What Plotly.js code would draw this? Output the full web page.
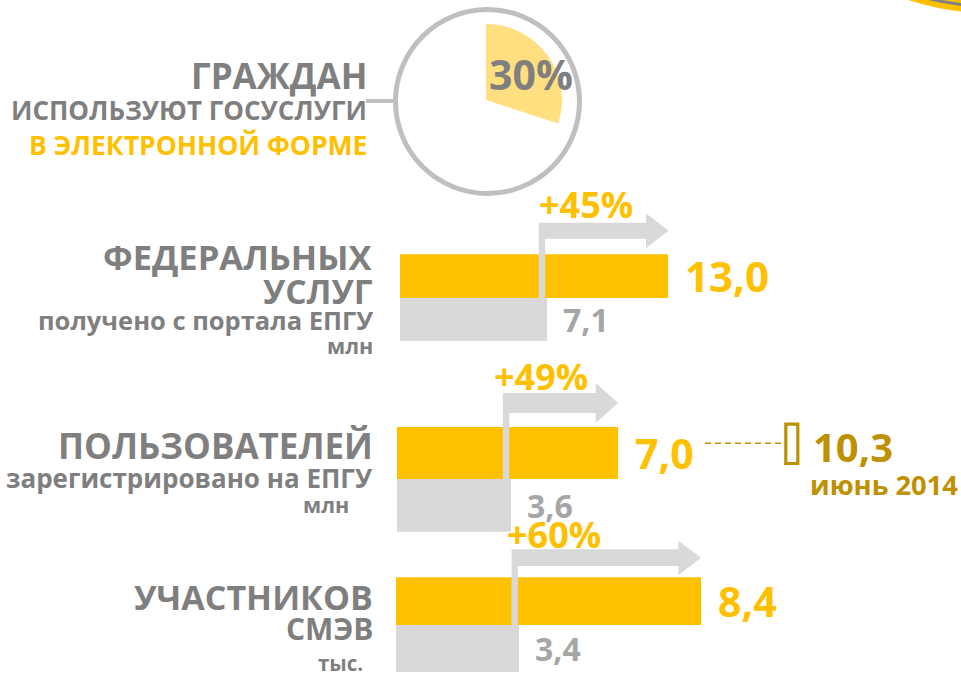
<!DOCTYPE html>
<html><head><meta charset="utf-8">
<script src="https://cdn.plot.ly/plotly-3.0.1.min.js"></script>
<style>html,body{margin:0;padding:0;background:#fff;overflow:hidden}</style>
</head><body><div id="chart" style="width:961px;height:682px"></div>
<script>
// ---------- DATA ----------
const categories = ['прежде', 'сейчас'];
const prevValues = [7.1, 3.6, 3.4];
const curValues = [13.0, 7.0, 8.4];
const growthLabels = ['+45%', '+49%', '+60%'];
const titleLine1 = ['ФЕДЕРАЛЬНЫХ', 'ПОЛЬЗОВАТЕЛЕЙ', 'УЧАСТНИКОВ'];
const titleLine2 = ['УСЛУГ', '', 'СМЭВ'];
const subtitles = ['получено с портала ЕПГУ', 'зарегистрировано на ЕПГУ', ''];
const units = ['млн', 'млн', 'тыс.'];
const citizenShare = 30;
const citizenLines = ['ГРАЖДАН', 'ИСПОЛЬЗУЮТ ГОСУСЛУГИ', 'В ЭЛЕКТРОННОЙ ФОРМЕ'];
const forecastValue = 10.3;
const forecastLabel = 'июнь 2014';

// ---------- STYLE / GEOMETRY ----------
const W = 961, H = 682;
const fx = x => x / W, fy = y => 1 - y / H;
const YEL = '#ffc000', GRY = '#d9d9d9', TXT = '#7f7f7f', NUM = '#a6a6a6', GOLD = '#bf9000';
const FONT = 'Open Sans, DejaVu Sans, sans-serif';
const geo = [
  {x0: 400, scale: 20.65, top: 254.3, bot: 341, shaftTop: 222.7, shaftBot: 238.7, headTop: 213.3, headBot: 248.3, stemBot: 312.7, pctY: 204.5, pctShift: 0,
   t1: 256, s1: 34.5, t2: 291, s2: 33.5, sub: 320, ss: 25.5, unit: 345, us: 21.5, unitR: 373},
  {x0: 397, scale: 31.6, top: 426.9, bot: 531.7, shaftTop: 393, shaftBot: 413, headTop: 383, headBot: 423, stemBot: 499, pctY: 377, pctShift: -9,
   t1: 445, s1: 35, t2: null, s2: 0, sub: 477.5, ss: 26, unit: 504, us: 21.5, unitR: 349},
  {x0: 396, scale: 36.3, top: 577.3, bot: 672.3, shaftTop: 549.3, shaftBot: 566, headTop: 540.7, headBot: 575.3, stemBot: 630, pctY: 534, pctShift: -5,
   t1: 597, s1: 34, t2: 628, s2: 30, sub: null, ss: 0, unit: 663, us: 20.5, unitR: 363}
];
const fmt = v => v.toFixed(1).replace('.', ',');
const f = (size, color) => ({family: FONT, size: size, color: color, weight: 700});

const traces = [];
const layout = {
  width: W, height: H, margin: {l: 0, r: 0, t: 0, b: 0},
  paper_bgcolor: '#ffffff', plot_bgcolor: 'rgba(0,0,0,0)',
  showlegend: false, bargap: 0, shapes: [], annotations: []
};

// pie (citizens)
traces.push({
  type: 'pie', values: [citizenShare, 100 - citizenShare], sort: false,
  direction: 'clockwise', rotation: 0, textinfo: 'none', hoverinfo: 'skip',
  marker: {colors: ['#ffdf80', 'rgba(0,0,0,0)'], line: {width: 0}},
  domain: {x: [fx(410), fx(562)], y: [fy(176), fy(24)]}
});
layout.shapes.push({type: 'circle', xref: 'paper', yref: 'paper', x0: fx(395.5), x1: fx(579.5), y0: fy(193.5), y1: fy(9.5), line: {color: '#bfbfbf', width: 5}, fillcolor: 'rgba(0,0,0,0)'});
layout.shapes.push({type: 'line', xref: 'paper', yref: 'paper', x0: fx(366), x1: fx(395), y0: fy(101), y1: fy(101), line: {color: '#bfbfbf', width: 4}});
layout.annotations.push({xref: 'paper', yref: 'paper', x: fx(531), y: fy(74), text: citizenShare + '%', showarrow: false, xanchor: 'center', yanchor: 'middle', font: f(41, TXT)});
const citY = [75.5, 110, 144.5], citS = [35, 26, 26.5], citC = [TXT, TXT, YEL];
citizenLines.forEach((t, i) => layout.annotations.push({xref: 'paper', yref: 'paper', x: fx(369), y: fy(citY[i]), text: t, showarrow: false, xanchor: 'right', yanchor: 'middle', font: f(citS[i], citC[i])}));

// top-right decoration
layout.shapes.push({type: 'circle', xref: 'paper', yref: 'paper', x0: fx(990 - 265), x1: fx(990 + 265), y0: fy(-252 + 265), y1: fy(-252 - 265), fillcolor: YEL, line: {width: 0}});
layout.shapes.push({type: 'circle', xref: 'paper', yref: 'paper', x0: fx(990 - 258), x1: fx(990 + 258), y0: fy(-252 + 258), y1: fy(-252 - 258), fillcolor: 'rgba(0,0,0,0)', line: {color: '#808080', width: 3}});

// bar groups
geo.forEach((g, i) => {
  const s = i === 0 ? '' : String(i + 1);
  const xa = 'x' + s, ya = 'y' + s;
  traces.push({
    type: 'bar', orientation: 'h', x: [prevValues[i], curValues[i]], y: categories,
    xaxis: xa, yaxis: ya, width: 1, hoverinfo: 'skip',
    marker: {color: [GRY, YEL], line: {width: 0}}
  });
  layout['xaxis' + s] = {domain: [fx(g.x0), 1], range: [0, (W - g.x0) / g.scale], visible: false, fixedrange: true, anchor: ya};
  layout['yaxis' + s] = {domain: [fy(g.bot), fy(g.top)], range: [-0.5, 1.5], type: 'category', categoryorder: 'array', categoryarray: categories, visible: false, fixedrange: true, anchor: xa};

  // arrow (from previous value to current value)
  const pxu = p => p / g.scale;
  const sR = prevValues[i] - pxu(1.5), sL = sR - pxu(6.4);
  const tip = curValues[i], hb = tip - pxu(22.5);
  const mid = (g.shaftTop + g.shaftBot) / 2;
  const P = (x, y) => x + ',' + fy(y);
  const path = 'M' + P(sL, g.shaftTop) + ' L' + P(hb, g.shaftTop) + ' L' + P(hb, g.headTop) + ' L' + P(tip, mid) +
    ' L' + P(hb, g.headBot) + ' L' + P(hb, g.shaftBot) + ' L' + P(sR, g.shaftBot) + ' L' + P(sR, g.stemBot) + ' L' + P(sL, g.stemBot) + ' Z';
  layout.shapes.push({type: 'path', xref: xa, yref: 'paper', path: path, fillcolor: GRY, line: {width: 0}});

  // growth label
  layout.annotations.push({xref: xa, yref: 'paper', x: sL, y: fy(g.pctY), xshift: g.pctShift - 2, text: growthLabels[i], showarrow: false, xanchor: 'left', yanchor: 'middle', font: f(36, YEL)});
  // value labels
  layout.annotations.push({xref: xa, yref: ya, x: curValues[i], y: 1, xshift: 15, text: fmt(curValues[i]), showarrow: false, xanchor: 'left', yanchor: 'middle', font: f(i === 0 ? 42 : 41, YEL)});
  layout.annotations.push({xref: xa, yref: ya, x: prevValues[i], y: 0, xshift: 14, text: fmt(prevValues[i]), showarrow: false, xanchor: 'left', yanchor: 'middle', font: f(32, NUM)});

  // left labels
  const L = (t, y, size, xr) => layout.annotations.push({xref: 'paper', yref: 'paper', x: fx(xr || 375), y: fy(y), text: t, showarrow: false, xanchor: 'right', yanchor: 'middle', font: f(size, TXT)});
  L(titleLine1[i], g.t1, g.s1);
  if (titleLine2[i]) L(titleLine2[i], g.t2, g.s2);
  if (subtitles[i]) L(subtitles[i], g.sub, g.ss);
  L(units[i], g.unit, g.us, g.unitR + 2);
});

// forecast marker (users)
layout.shapes.push({type: 'line', xref: 'paper', yref: 'paper', x0: fx(705), x1: fx(783), y0: fy(443.3), y1: fy(443.3), line: {color: GOLD, width: 1.5, dash: '6px,4px'}});
layout.shapes.push({type: 'rect', xref: 'paper', yref: 'paper', x0: fx(785.8), x1: fx(797.8), y0: fy(463.5), y1: fy(424.2), fillcolor: '#ffffff', line: {color: GOLD, width: 3.2}});
layout.annotations.push({xref: 'paper', yref: 'paper', x: fx(811), y: fy(446), text: fmt(forecastValue), showarrow: false, xanchor: 'left', yanchor: 'middle', font: f(40, GOLD)});
layout.annotations.push({xref: 'paper', yref: 'paper', x: fx(808), y: fy(484.5), text: forecastLabel, showarrow: false, xanchor: 'left', yanchor: 'middle', font: f(27.3, GOLD)});

Plotly.newPlot('chart', traces, layout, {staticPlot: true, displayModeBar: false});
</script></body></html>
